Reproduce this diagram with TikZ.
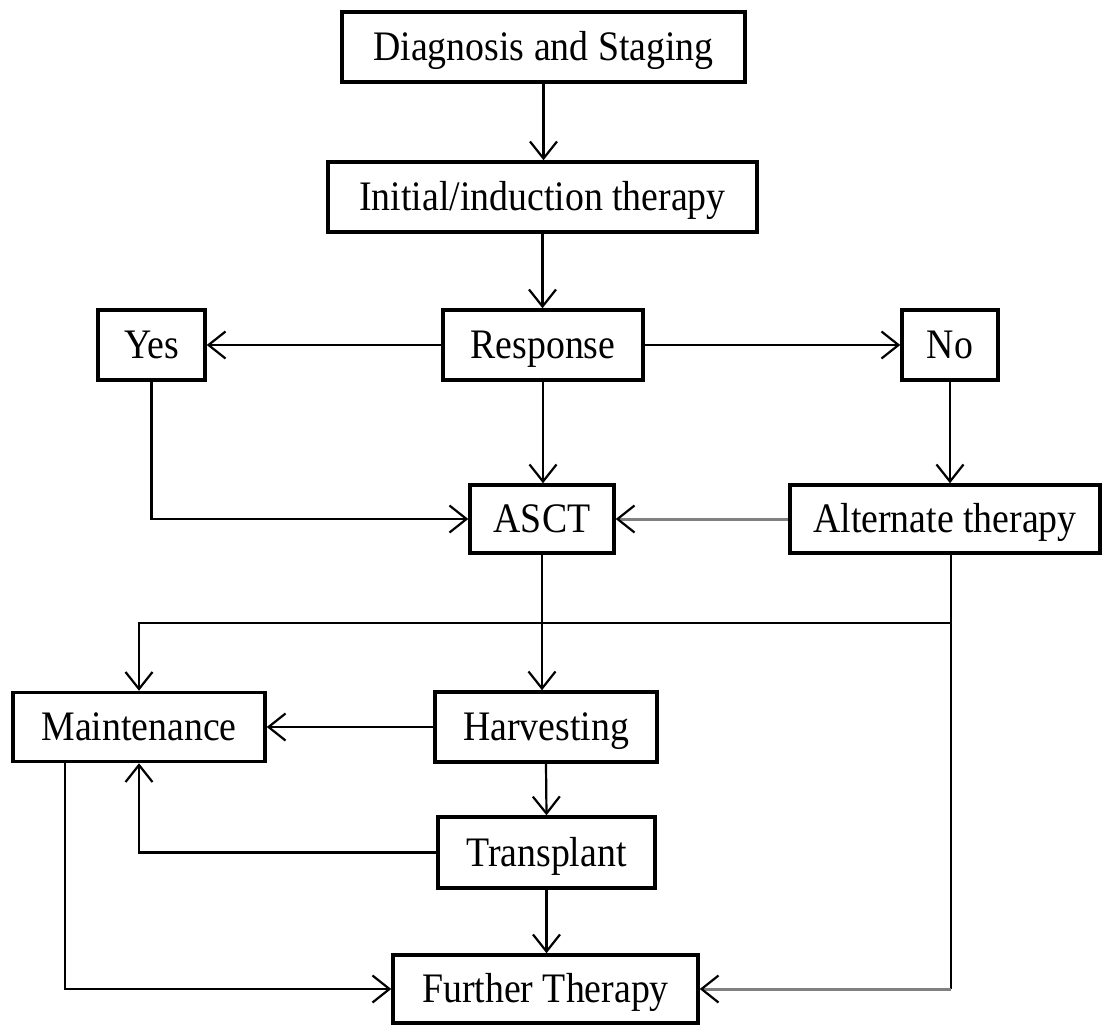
\documentclass[tikz,border=0pt]{standalone}
\usepackage{fontspec}
\setmainfont{Liberation Serif}
\newfontfamily\boxfont{Liberation Serif}[FakeStretch=0.9]
\usepackage{tikz}
\usetikzlibrary{arrows.meta}

\tikzset{
  box/.style={draw, line width=3.5pt, inner sep=0pt, text height=32pt, text depth=5pt,
    font=\boxfont\fontsize{42}{44}\selectfont},
  arr/.style={line width=2.2pt, -{Straight Barb[length=17pt, width=27pt, line width=2.2pt, color=black]}},
  plain/.style={line width=2.2pt},
  greyline/.style={gray, line width=3pt}
}

\begin{document}
\begin{tikzpicture}[x=1pt, y=-1pt]
		\useasboundingbox (0,0) rectangle (1106,1025);
		% boxes, placed at pixel centres
		\node[box, minimum width=403pt, minimum height=70pt] (diag) at (543.5,47) {Diagnosis and Staging};
		\node[box, minimum width=429pt, minimum height=70pt] (init) at (542.5,197) {Initial/induction therapy};
		\node[box, minimum width=200pt, minimum height=70pt] (resp) at (543,345) {Response};
		\node[box, minimum width=107pt, minimum height=70pt] (yes) at (151.5,345) {Yes};
		\node[box, minimum width=96pt, minimum height=70pt] (no) at (950,345) {No};
		\node[box, minimum width=144pt, minimum height=68pt] (asct) at (542,519) {ASCT};
		\node[box, minimum width=310pt, minimum height=68pt] (alt) at (945,519) {Alternate therapy};
		\node[box, minimum width=252pt, minimum height=69pt] (maint) at (139,727) {Maintenance};
		\node[box, minimum width=222pt, minimum height=70pt] (harv) at (546,727) {Harvesting};
		\node[box, minimum width=217pt, minimum height=71pt] (trans) at (546.5,852.5) {Transplant};
		\node[box, minimum width=305pt, minimum height=68pt] (further) at (545.5,989) {Further Therapy};
		% junction points
		\coordinate (altout) at (951,0 |- alt.south);
		\coordinate (split) at (951,623);
		\coordinate (corner) at (altout |- further.east);
		\coordinate (mleft) at (65,0 |- maint.south);
		% connectors
		\draw[arr] (diag.south) -- (diag.south |- init.north);
		\draw[arr] (init.south) -- (init.south |- resp.north);
		\draw[arr] (resp.west) -- (yes.east);
		\draw[arr] (resp.east) -- (no.west);
		\draw[arr] (resp.south) -- (resp.south |- asct.north);
		\draw[arr] (yes.south) |- (asct.west);
		\draw[arr] (no.south) -- (no.south |- alt.north);
		\draw[arr, greyline] (alt.west) -- (asct.east);
		\draw[arr] (asct.south) -- (asct.south |- harv.north);
		\draw[plain] (altout) -- (corner);
		\draw[arr] (split) -| (maint.north);
		\draw[arr, greyline] (corner) -- (further.east);
		\draw[arr] (harv.west) -- (maint.east);
		\draw[arr] (harv.south) -- (trans.north);
		\draw[arr] (trans.west) -| (maint.south);
		\draw[arr] (trans.south) -- (trans.south |- further.north);
		\draw[arr] (mleft) |- (further.west);
\end{tikzpicture}
\end{document}
